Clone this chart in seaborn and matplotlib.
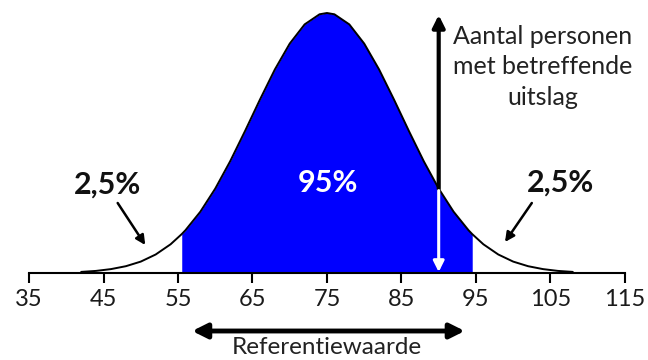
import numpy as np
import pandas as pd
import matplotlib
matplotlib.use("Agg")
import matplotlib.pyplot as plt
import seaborn as sns

# Curve heights (pixels above the axis)
uitslag = [42, 44, 46, 48, 50, 52, 54, 55.5, 56, 58, 60, 62, 64, 66, 68, 70, 72, 74, 75,
           76, 78, 80, 82, 84, 86, 88, 90, 92, 94, 94.5, 96, 98, 100, 102, 104, 106, 108]
aantal = [1.1, 2.1, 3.9, 6.8, 11.4, 18.5, 28.7, 38.9, 42.8, 61.3, 84.4, 111.7, 142.0, 173.4,
          203.5, 229.4, 248.6, 258.7, 260.0, 258.7, 248.6, 229.4, 203.5, 173.4, 142.0, 111.7,
          84.4, 61.3, 42.8, 38.9, 28.7, 18.5, 11.4, 6.8, 3.9, 2.1, 1.1]
ref_low, ref_high = 55.5, 94.5
ticks = [35, 45, 55, 65, 75, 85, 95, 105, 115]
meetwaarde = 90

df = pd.DataFrame({"uitslag": uitslag, "aantal": aantal})

sns.set_style("white")
plt.rcParams['font.family'] = ['Lato', 'DejaVu Sans']

fig = plt.figure(figsize=(6.48, 3.6), dpi=100)
ax = fig.add_axes([0, 0, 1, 1])

# blue 95% area
mid = df[(df.uitslag >= ref_low) & (df.uitslag <= ref_high)]
ax.fill_between(mid.uitslag, 0, mid.aantal, color="#0000ff", linewidth=0)
sns.lineplot(data=df, x="uitslag", y="aantal", color="black", linewidth=1.4, ax=ax)

ax.set_xlim(31.1, 118.1)
ax.set_ylim(-87, 273)

for s in ["top", "left", "right"]:
    ax.spines[s].set_visible(False)
ax.spines["bottom"].set_position(("data", 0))
ax.spines["bottom"].set_bounds(35, 115)
ax.spines["bottom"].set_linewidth(1.5)
ax.spines["bottom"].set_color("black")
ax.set_xticks(ticks)
ax.set_xticklabels([str(t) for t in ticks])
ax.tick_params(axis="x", direction="out", length=7.5, width=1.5, color="black",
               labelsize=17, pad=4, bottom=True, labelcolor="#1a1a1a")
ax.set_yticks([])
ax.set_xlabel("")
ax.set_ylabel("")

# vertical arrows at the measured value
y_curve = df.loc[df.uitslag == meetwaarde, "aantal"].iloc[0]
ax.annotate("", xy=(meetwaarde, 258), xytext=(meetwaarde, y_curve),
            arrowprops=dict(arrowstyle="-|>", color="black", lw=3, mutation_scale=18,
                            shrinkA=0, shrinkB=0))
ax.annotate("", xy=(meetwaarde, 1), xytext=(meetwaarde, y_curve - 2),
            arrowprops=dict(arrowstyle="-|>", color="white", lw=2.2, mutation_scale=16,
                            shrinkA=0, shrinkB=0))

ax.text(104.0, 206, "Aantal personen\nmet betreffende\nuitslag", ha="center", va="center",
        fontsize=18, linespacing=1.42, color="#222222")

ax.text(75.1, 90, "95%", ha="center", va="center", fontsize=22, fontweight="bold", color="white")
ax.text(45.5, 88, "2,5%", ha="center", va="center", fontsize=22, fontweight="bold", color="#111111")
ax.text(106.3, 90, "2,5%", ha="center", va="center", fontsize=22, fontweight="bold", color="#111111")

ax.annotate("", xy=(50.6, 28), xytext=(46.9, 70),
            arrowprops=dict(arrowstyle="-|>", color="black", lw=1.8, mutation_scale=14,
                            shrinkA=0, shrinkB=0))
ax.annotate("", xy=(98.9, 31), xytext=(102.5, 70),
            arrowprops=dict(arrowstyle="-|>", color="black", lw=1.8, mutation_scale=14,
                            shrinkA=0, shrinkB=0))

# reference range arrow
ax.annotate("", xy=(56.9, -58), xytext=(93.5, -58),
            arrowprops=dict(arrowstyle="<|-|>", color="black", lw=3.5, mutation_scale=22,
                            shrinkA=0, shrinkB=0))
ax.text(75.0, -81.5, "Referentiewaarde", ha="center", va="baseline", fontsize=17.5, color="#222222")

fig.savefig("out.png", dpi=100)
